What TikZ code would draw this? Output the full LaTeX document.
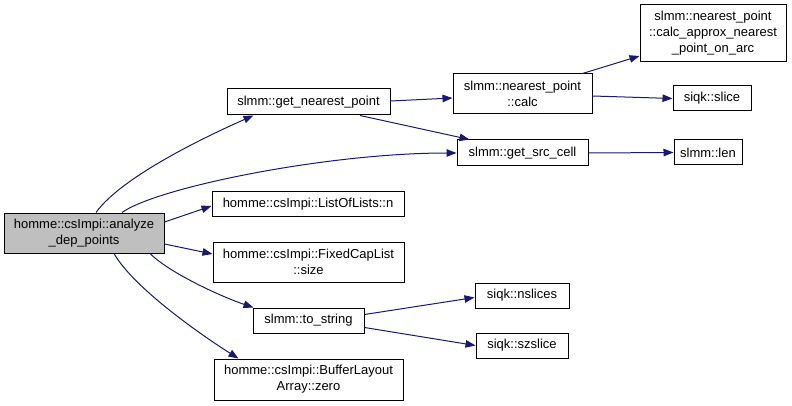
\documentclass[tikz,border=0pt]{standalone}
\usepackage{fontspec}
\setmainfont{Liberation Sans}
\usetikzlibrary{arrows.meta,calc}
\definecolor{edgeblue}{HTML}{191970}
\definecolor{rootgray}{HTML}{BFBFBF}
\begin{document}
\begin{tikzpicture}[x=1pt,y=-1pt,
  fn/.style={draw=black,line width=1pt,fill=white,inner sep=0pt,align=center,
    font=\fontsize{13}{16}\selectfont},
  call/.style={draw=edgeblue,line width=1pt,-{Triangle[length=10pt,width=7.5pt]}}]
\useasboundingbox (0,0) rectangle (792,406);
% nodes
\node[fn,fill=rootgray,minimum width=160pt,minimum height=40pt] (analyze) at (84,233) {homme::csImpi::analyze\\\_dep\_points};
\node[fn,minimum width=163pt,minimum height=26pt] (gnp) at (308.5,102) {slmm::get\_nearest\_point};
\node[fn,minimum width=139pt,minimum height=40pt] (calc) at (522.5,94) {slmm::nearest\_point\\::calc};
\node[fn,minimum width=131pt,minimum height=26pt] (src) at (522.5,153) {slmm::get\_src\_cell};
\node[fn,minimum width=146pt,minimum height=57pt] (approx) at (713,33.5) {slmm::nearest\_point\\::calc\_approx\_nearest\\\_point\_on\_arc};
\node[fn,minimum width=78pt,minimum height=25pt] (slice) at (712,98.5) {siqk::slice};
\node[fn,minimum width=68pt,minimum height=25pt] (len) at (708,152.5) {slmm::len};
\node[fn,minimum width=192pt,minimum height=24pt] (lol) at (308,204) {homme::csImpi::ListOfLists::n};
\node[fn,minimum width=191pt,minimum height=40pt] (fcl) at (308.5,262) {homme::csImpi::FixedCapList\\::size};
\node[fn,minimum width=111pt,minimum height=25pt] (tostr) at (308.5,320.5) {slmm::to\_string};
\node[fn,minimum width=94pt,minimum height=25pt] (nslices) at (522,295.5) {siqk::nslices};
\node[fn,minimum width=92pt,minimum height=25pt] (szslice) at (522,345.5) {siqk::szslice};
\node[fn,minimum width=189pt,minimum height=41pt] (buf) at (308.5,379.5) {homme::csImpi::BufferLayout\\Array::zero};
% edges
\draw[call] ([xshift=12pt]analyze.north) .. controls +(25,-35) and +(-50,22) .. ([xshift=-55pt]gnp.south);
\draw[call] ([xshift=38pt]analyze.north) .. controls +(35,-25) and +(-130,0) .. (src.west);
\draw[call] ([yshift=11pt]analyze.east) -- ([yshift=-2pt]lol.west);
\draw[call] ([yshift=-11pt]analyze.east) -- ([yshift=8pt]fcl.west);
\draw[call] ([xshift=66pt]analyze.south) .. controls +(20,20) and +(-30,-10) .. ([xshift=1pt]tostr.north west);
\draw[call] ([xshift=30pt]analyze.south) .. controls +(20,35) and +(-35,-22) .. ([xshift=-70pt]buf.north);
\draw[call] ([yshift=1pt]gnp.east) -- ([yshift=-4pt]calc.west);
\draw[call] ([xshift=51.5pt]gnp.south) -- ([xshift=-53pt]src.north);
\draw[call] ([xshift=60pt]calc.north) -- ([yshift=-22.5pt]approx.west);
\draw[call] ([yshift=-2pt]calc.east) -- (slice.west);
\draw[call] (src.east) -- (len.west);
\draw[call] ([yshift=6pt]tostr.east) -- ([yshift=-2pt]nslices.west);
\draw[call] ([yshift=-7pt]tostr.east) -- (szslice.west);
\end{tikzpicture}
\end{document}
